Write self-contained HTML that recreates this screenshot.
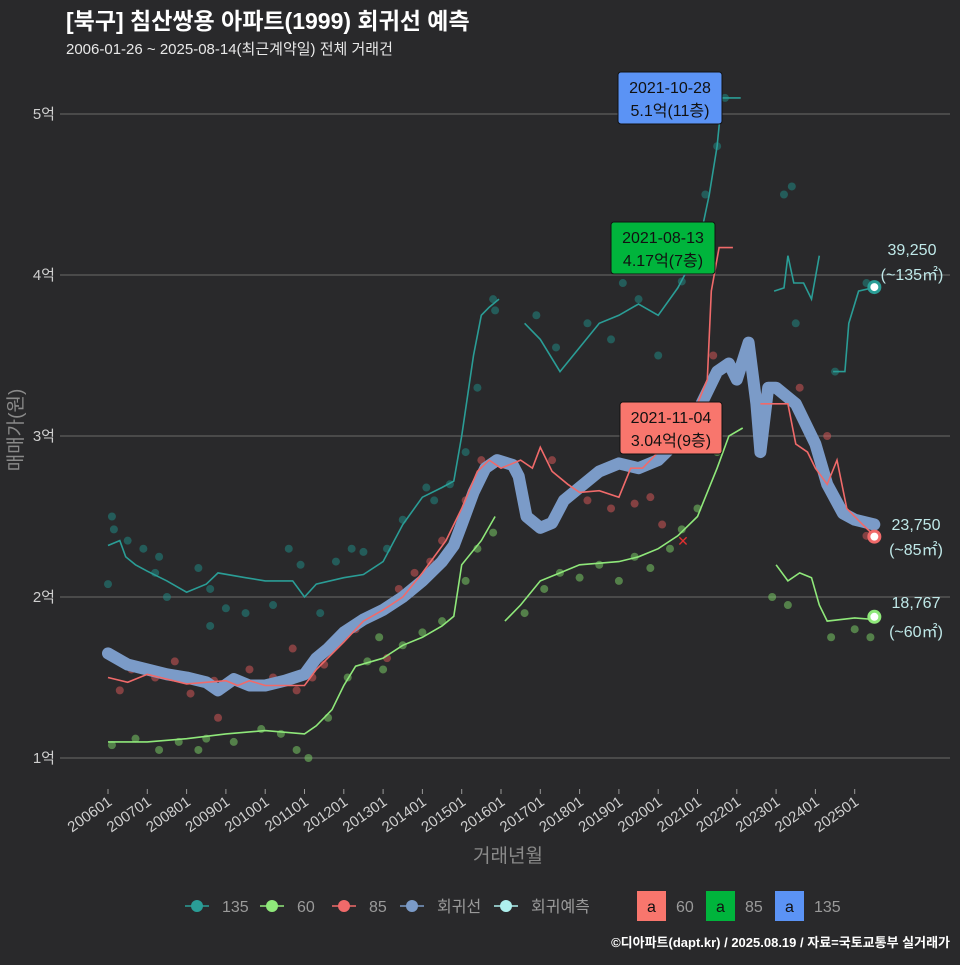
<!DOCTYPE html>
<html><head><meta charset="utf-8">
<style>
html,body{margin:0;padding:0;background:#29292b;}
body{width:960px;height:960px;overflow:hidden;font-family:"Liberation Sans","Noto Sans CJK KR",sans-serif;}
svg text{font-family:"Liberation Sans","Noto Sans CJK KR",sans-serif;}
</style></head>
<body>
<svg id="chart" width="960" height="960" viewBox="0 0 960 960" xmlns="http://www.w3.org/2000/svg">
<rect x="0" y="0" width="960" height="960" fill="#29292b"/>
<text x="66" y="29" fill="#ffffff" font-size="23" font-weight="bold">[북구] 침산쌍용 아파트(1999) 회귀선 예측</text>
<text x="66" y="54" fill="#e8e8e8" font-size="15">2006-01-26 ~ 2025-08-14(최근계약일) 전체 거래건</text>
<g id="grid"></g>
<g id="yaxis"></g>
<g id="xaxis"></g>
<g id="points"></g>
<g id="lines"></g>
<text x="0" y="0" transform="translate(22,430) rotate(-90)" text-anchor="middle" fill="#8a8a8a" font-size="19">매매가(원)</text>
<text x="508" y="862" text-anchor="middle" fill="#8a8a8a" font-size="19">거래년월</text>
<g id="annot"></g>
<g id="legend"></g>
<text x="950" y="947" text-anchor="end" fill="#ffffff" font-size="13" font-weight="bold">©디아파트(dapt.kr) / 2025.08.19 / 자료=국토교통부 실거래가</text>
</svg>
<script>
// ---- data (time in decimal years, value in 억) ----
const yTicks = [1,2,3,4,5];
const xTickYears = [2006,2007,2008,2009,2010,2011,2012,2013,2014,2015,2016,2017,2018,2019,2020,2021,2022,2023,2024,2025];
const line135 = [[[2006.0,2.32],[2006.3,2.35],[2006.45,2.25],[2006.7,2.2],[2007,2.16],[2007.5,2.1],[2008,2.03],[2008.5,2.08],[2008.8,2.15],[2009.5,2.12],[2010,2.1],[2010.7,2.1],[2011,2.0],[2011.3,2.08],[2012,2.12],[2012.5,2.14],[2013,2.22],[2013.5,2.45],[2014,2.62],[2014.5,2.68],[2014.8,2.72],[2015,3.0],[2015.3,3.5],[2015.5,3.75],[2015.7,3.8],[2015.95,3.85]],
 [[2016.6,3.7],[2017,3.6],[2017.5,3.4],[2018,3.55],[2018.5,3.7],[2019,3.75],[2019.5,3.82],[2020,3.75],[2020.5,3.92],[2021,4.15],[2021.3,4.5],[2021.5,4.8],[2021.62,5.1],[2022.1,5.1]],
 [[2022.95,3.9],[2023.2,3.92],[2023.3,4.12],[2023.45,3.95],[2023.7,3.95],[2023.9,3.85],[2024.1,4.12]],
 [[2024.45,3.4],[2024.75,3.4],[2024.85,3.7],[2025.1,3.9],[2025.45,3.92]]];
const line85 = [[[2006.0,1.5],[2006.5,1.47],[2007,1.52],[2008,1.46],[2009,1.48],[2009.3,1.45],[2009.6,1.48],[2010,1.45],[2011,1.45],[2011.3,1.55],[2012,1.72],[2012.5,1.85],[2013,1.92],[2013.5,2.0],[2014,2.15],[2014.6,2.35],[2015,2.55],[2015.4,2.78],[2015.7,2.85],[2016,2.8],[2016.5,2.85],[2016.8,2.8],[2017,2.93],[2017.3,2.78],[2017.7,2.7],[2018,2.65],[2018.5,2.66],[2019,2.62],[2019.3,2.8],[2019.6,2.8],[2020,2.9],[2020.5,3.0],[2020.8,3.1],[2021,3.2],[2021.25,3.35],[2021.35,3.9],[2021.55,4.17],[2021.9,4.17]],
 [[2022.6,3.2],[2023.3,3.2],[2023.5,2.95],[2023.8,2.9],[2024,2.8],[2024.3,2.7],[2024.55,2.85],[2024.8,2.55],[2025.2,2.45],[2025.5,2.38]]];
const line60 = [[[2006.0,1.1],[2007,1.1],[2008,1.12],[2009,1.15],[2010,1.17],[2011,1.15],[2011.3,1.2],[2011.7,1.3],[2012,1.45],[2012.3,1.57],[2013,1.62],[2013.5,1.7],[2014,1.75],[2014.5,1.82],[2014.8,1.88],[2015,2.2],[2015.5,2.35],[2015.85,2.5]],
 [[2016.1,1.85],[2016.5,1.95],[2017,2.1],[2017.5,2.15],[2018,2.2],[2019,2.22],[2019.5,2.25],[2020,2.3],[2020.5,2.38],[2021,2.5],[2021.5,2.8],[2021.8,3.0],[2022.15,3.05]],
 [[2023.0,2.2],[2023.3,2.1],[2023.6,2.15],[2023.9,2.12],[2024.1,1.95],[2024.3,1.85],[2025,1.87],[2025.5,1.86]]];
const regLine = [[2006.0,1.65],[2006.5,1.58],[2007,1.55],[2007.5,1.52],[2008,1.5],[2008.5,1.47],[2008.8,1.42],[2009.2,1.49],[2009.6,1.45],[2010,1.45],[2010.5,1.48],[2011,1.52],[2011.3,1.62],[2011.6,1.68],[2012,1.78],[2012.5,1.86],[2013,1.92],[2013.5,2.0],[2014,2.1],[2014.5,2.22],[2014.8,2.32],[2015,2.45],[2015.3,2.65],[2015.6,2.8],[2015.9,2.85],[2016.3,2.82],[2016.45,2.75],[2016.65,2.5],[2017,2.43],[2017.3,2.46],[2017.6,2.6],[2018,2.68],[2018.5,2.78],[2019,2.83],[2019.5,2.8],[2020,2.85],[2020.5,2.97],[2021,3.15],[2021.5,3.4],[2021.8,3.45],[2022.0,3.35],[2022.3,3.58],[2022.5,3.2],[2022.6,2.9],[2022.8,3.3],[2023,3.3],[2023.5,3.2],[2024,2.95],[2024.3,2.7],[2024.7,2.52],[2025,2.48],[2025.5,2.45]];
const pts135 = [[2006,2.08],[2006.1,2.5],[2006.15,2.42],[2006.5,2.35],[2006.9,2.3],[2007.3,2.25],[2007.2,2.15],[2008.3,2.18],[2008.6,2.05],[2009,1.93],[2010.6,2.3],[2009.5,1.9],[2010.9,2.2],[2011.8,2.22],[2012.2,2.3],[2012.5,2.28],[2013.1,2.3],[2013.5,2.48],[2014.1,2.68],[2014.3,2.6],[2014.7,2.7],[2015.1,2.9],[2015.4,3.3],[2015.8,3.85],[2015.85,3.78],[2016.9,3.75],[2017.4,3.55],[2018.2,3.7],[2018.8,3.6],[2019.5,3.85],[2019.1,3.95],[2020.0,3.5],[2020.6,3.96],[2021.2,4.5],[2021.5,4.8],[2021.7,5.1],[2023.2,4.5],[2023.4,4.55],[2023.5,3.7],[2024.5,3.4],[2025.3,3.95],[2010.2,1.95],[2011.4,1.9],[2008.6,1.82],[2007.5,2.0]];
const pts85 = [[2006.3,1.42],[2006.6,1.55],[2007.2,1.5],[2007.7,1.6],[2008.1,1.4],[2008.7,1.48],[2009.6,1.55],[2010.2,1.5],[2010.8,1.42],[2011.2,1.5],[2011.5,1.58],[2012.3,1.8],[2012.9,1.92],[2013.4,2.05],[2013.8,2.15],[2014.2,2.22],[2014.5,2.35],[2015.1,2.6],[2015.5,2.85],[2016.2,2.82],[2017.3,2.85],[2018.2,2.6],[2018.8,2.55],[2019.4,2.58],[2019.8,2.62],[2020.1,2.45],[2020.9,3.15],[2021.4,3.5],[2022.7,3.25],[2023.6,3.3],[2024.3,3.0],[2024.6,2.55],[2025.3,2.38],[2008.8,1.25],[2010.7,1.68],[2013.1,1.62]];
const pts60 = [[2006.1,1.08],[2006.7,1.12],[2007.3,1.05],[2007.8,1.1],[2008.5,1.12],[2009.2,1.1],[2009.9,1.18],[2010.4,1.15],[2010.8,1.05],[2011.1,1.0],[2011.6,1.25],[2012.1,1.5],[2012.6,1.6],[2013.0,1.55],[2013.5,1.7],[2014.0,1.78],[2014.5,1.85],[2015.1,2.1],[2015.4,2.3],[2015.8,2.4],[2016.6,1.9],[2017.1,2.05],[2017.5,2.15],[2018.0,2.12],[2018.5,2.2],[2019.0,2.1],[2019.4,2.25],[2019.8,2.18],[2020.3,2.3],[2020.6,2.42],[2021.0,2.55],[2021.5,2.9],[2022.9,2.0],[2023.3,1.95],[2024.4,1.75],[2025.0,1.8],[2025.4,1.75],[2008.3,1.05],[2012.9,1.75]];
const end135 = [2025.5,3.925], end85 = [2025.5,2.375], end60 = [2025.5,1.877];
const endLabels = ["39,250","23,750","18,767"];

// ---- scales ----
const X = t => 108 + (t-2006)*39.3;
const Y = v => 758 - (v-1)*161;
const NS="http://www.w3.org/2000/svg";
function mk(tag, attrs, parent){const e=document.createElementNS(NS,tag);for(const k in attrs)e.setAttribute(k,attrs[k]);parent.appendChild(e);return e;}
const grid=document.getElementById('grid'), yax=document.getElementById('yaxis'), xax=document.getElementById('xaxis');
yTicks.forEach(v=>{
  const l=mk('line',{x1:60,x2:950,y1:Y(v),y2:Y(v),stroke:'#6a6a6a','stroke-width':1},grid);
  
  
  const t=mk('text',{x:55,y:Y(v)+5,'text-anchor':'end',fill:'#cfcfcf','font-size':15},yax);
  t.textContent=v+'억';
  
  
});
xTickYears.forEach(y=>{
  const x=X(y);
  const k=mk('line',{x1:x,x2:x,y1:789,y2:794,stroke:'#9a9a9a'},xax);
  
  
  const t=mk('text',{x:0,y:0,transform:`translate(${x+5},${804}) rotate(-35)`,'text-anchor':'end',fill:'#cfcfcf','font-size':15},xax);
  t.textContent=y+'01';
  
  
});
const P=document.getElementById('points');
function dots(arr,col,name){arr.forEach(p=>{const c=mk('circle',{cx:X(p[0]),cy:Y(p[1]),r:4,fill:col,'fill-opacity':0.5},P);
  
  });}
dots(pts135,'#1f8f8a','point-135');
dots(pts85,'#e05a5a','point-85');
dots(pts60,'#7fd76a','point-60');
const L=document.getElementById('lines');
function path(seg){return seg.map((p,i)=>(i?'L':'M')+X(p[0]).toFixed(1)+','+Y(p[1]).toFixed(1)).join('');}
const reg=mk('path',{d:path(regLine),fill:'none',stroke:'#7b9bc8','stroke-width':12,'stroke-linejoin':'round','stroke-linecap':'round'},L);


function lines(segs,col,name){segs.forEach(s=>{const e=mk('path',{d:path(s),fill:'none',stroke:col,'stroke-width':1.6},L);
  
  });}
lines(line135,'#2a9d96','line-135');
lines(line85,'#f06a6a','line-85');
lines(line60,'#8fe87a','line-60');
const ends=[[end135,'#2a9d96'],[end85,'#f06a6a'],[end60,'#8fe87a']];
const A=document.getElementById('annot');
ends.forEach((e,i)=>{
  const c=mk('circle',{cx:X(e[0][0]),cy:Y(e[0][1]),r:5.5,fill:'#ffffff',stroke:e[1],'stroke-width':3},A);
  
  
});
const lab=[[912,255,'(~135㎡)',280],[916,530,'(~85㎡)',555],[916,608,'(~60㎡)',637]];
lab.forEach((l,i)=>{
  const t1=mk('text',{x:l[0],y:l[1],'text-anchor':'middle',fill:'#bfe8e8','font-size':16},A);
  t1.textContent=endLabels[i];
  
  
  const t2=mk('text',{x:l[0],y:l[3],'text-anchor':'middle',fill:'#bfe8e8','font-size':16},A);
  t2.textContent=l[2];
  
  
});
const boxes=[[618,72,104,52,'#5b93f5','2021-10-28','5.1억(11층)','max-135-box'],[611,222,104,52,'#00b43c','2021-08-13','4.17억(7층)','max-85-box'],[620,402,102,52,'#f8766d','2021-11-04','3.04억(9층)','max-60-box']];
boxes.forEach(b=>{
  const r=mk('rect',{x:b[0],y:b[1],width:b[2],height:b[3],rx:3,fill:b[4],stroke:'#111','stroke-width':1},A);
  
  
  const t1=mk('text',{x:b[0]+b[2]/2,y:b[1]+21,'text-anchor':'middle',fill:'#111','font-size':16},A);t1.textContent=b[5];
  
  
  const t2=mk('text',{x:b[0]+b[2]/2,y:b[1]+44,'text-anchor':'middle',fill:'#111','font-size':16},A);t2.textContent=b[6];
  
  
});
const xm=mk('text',{x:683,y:546,'text-anchor':'middle',fill:'#e03030','font-size':14},A);xm.textContent='✕';


// legend
const G=document.getElementById('legend');
const leg=[[197,'#2a9d96','135'],[272,'#8fe87a','60'],[344,'#f06a6a','85'],[412,'#7b9bc8','회귀선'],[506,'#aef0ee','회귀예측']];
leg.forEach(l=>{
  const ln=mk('line',{x1:l[0]-12,x2:l[0]+12,y1:906,y2:906,stroke:l[1],'stroke-width':1.5},G);
  
  
  const c=mk('circle',{cx:l[0],cy:906,r:6,fill:l[1]},G);
  
  
  const t=mk('text',{x:l[0]+25,y:912,fill:'#9a9a9a','font-size':16},G);t.textContent=l[2];
  
  
});
const lb=[[637,'#f8766d','60'],[706,'#00b43c','85'],[775,'#5b93f5','135']];
lb.forEach(l=>{
  const r=mk('rect',{x:l[0],y:891,width:29,height:30,fill:l[1]},G);
  
  
  const a=mk('text',{x:l[0]+14.5,y:912,'text-anchor':'middle',fill:'#111','font-size':16},G);a.textContent='a';
  
  
  const t=mk('text',{x:l[0]+39,y:912,fill:'#9a9a9a','font-size':16},G);t.textContent=l[2];
  
  
});
</script>
</body></html>
